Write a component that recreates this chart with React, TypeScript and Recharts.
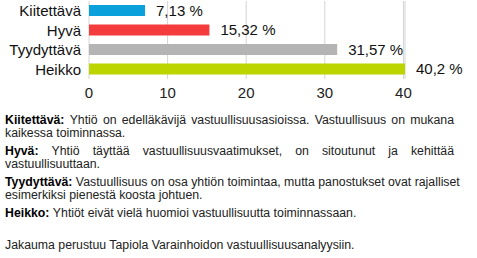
import React from "react";
import { BarChart, Bar, XAxis, YAxis, CartesianGrid, LabelList, Cell } from "recharts";

const categories = ["Kiitettävä", "Hyvä", "Tyydyttävä", "Heikko"];
const values = [7.13, 15.32, 31.57, 40.2];
const valueLabels = ["7,13 %", "15,32 %", "31,57 %", "40,2 %"];
const colors = ["#0aa0dc", "#f43c3c", "#b4b4b4", "#bcd400"];
const xTicks = [0, 10, 20, 30, 40];

const data = categories.map((c, i) => ({ name: c, value: values[i], label: valueLabels[i] }));

const font = "Arial, 'Liberation Sans', sans-serif";

type Line = { bold?: string; text: string; justify: boolean; top: number };
const lines: Line[] = [
  { bold: "Kiitettävä:", text: "Yhtiö on edelläkävijä vastuullisuusasioissa. Vastuullisuus on mukana", justify: true, top: 113.5 },
  { text: "kaikessa toiminnassa.", justify: false, top: 127 },
  { bold: "Hyvä:", text: "Yhtiö täyttää vastuullisuusvaatimukset, on sitoutunut ja kehittää", justify: true, top: 144.5 },
  { text: "vastuullisuuttaan.", justify: false, top: 158 },
  { bold: "Tyydyttävä:", text: "Vastuullisuus on osa yhtiön toimintaa, mutta panostukset ovat rajalliset", justify: true, top: 175.5 },
  { text: "esimerkiksi pienestä koosta johtuen.", justify: false, top: 189 },
  { bold: "Heikko:", text: "Yhtiöt eivät vielä huomioi vastuullisuutta toiminnassaan.", justify: false, top: 206.5 },
  { text: "Jakauma perustuu Tapiola Varainhoidon vastuullisuusanalyysiin.", justify: false, top: 238.5 },
];

export default function App() {
  return (
    <div style={{ position: "absolute", left: 0, top: 0, width: 477, height: 258, background: "#fff", overflow: "hidden" }}>
      <BarChart
        width={477}
        height={108}
        data={data}
        layout="vertical"
        margin={{ top: 1, right: 72, bottom: 0, left: 0 }}
        barSize={11}
      >
        <CartesianGrid horizontal={false} stroke="#d4d4d4" />
        <XAxis
          type="number"
          domain={[0, 40]}
          ticks={xTicks}
          axisLine={false}
          tickLine={false}
          height={29}
          tick={{ fontSize: 15, fill: "#222", fontFamily: font }}
        />
        <YAxis
          type="category"
          dataKey="name"
          width={89}
          interval={0}
          axisLine={false}
          tickLine={false}
          tick={{ fontSize: 15, fill: "#111", fontFamily: font }}
        />
        <Bar dataKey="value" isAnimationActive={false}>
          {data.map((d, i) => (
            <Cell key={d.name} fill={colors[i]} />
          ))}
          <LabelList
            dataKey="label"
            position="right"
            offset={11}
            style={{ fontSize: 15, fill: "#111", fontFamily: font }}
          />
        </Bar>
      </BarChart>
      {lines.map((l, i) => (
        <div
          key={i}
          style={{
            position: "absolute",
            left: 5,
            top: l.top,
            width: 449,
            fontFamily: font,
            fontSize: 12.3,
            lineHeight: "13px",
            color: "#222",
            whiteSpace: "nowrap",
            textAlign: l.justify ? "justify" : "left",
            textAlignLast: l.justify ? "justify" : "left",
          }}
        >
          {l.bold ? <b style={{ color: "#000" }}>{l.bold} </b> : null}
          {l.text}
        </div>
      ))}
    </div>
  );
}
